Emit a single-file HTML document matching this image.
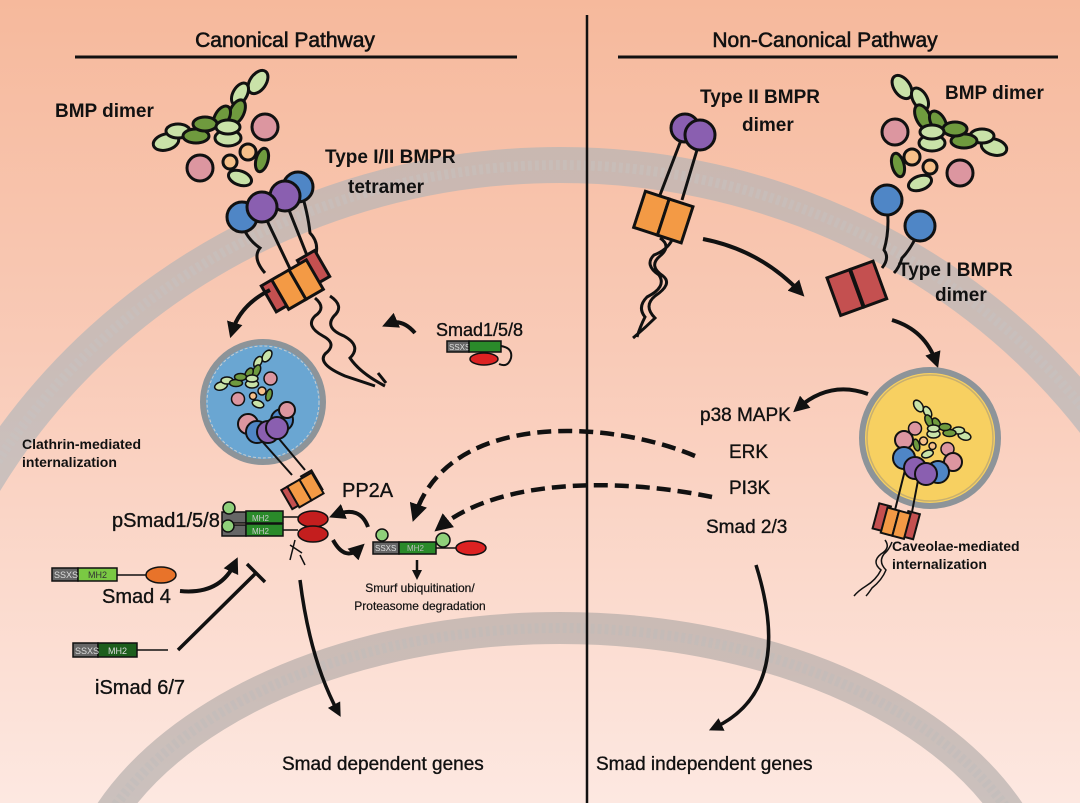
<!DOCTYPE html>
<html><head><meta charset="utf-8"><style>
html,body{margin:0;padding:0;width:1080px;height:803px;overflow:hidden}
svg{display:block}
text{font-family:"Liberation Sans",Arial,sans-serif;fill:#111;stroke:#111;stroke-width:0.35}
.b{font-weight:bold;stroke-width:0}
</style></head><body>
<svg width="1080" height="803" viewBox="0 0 1080 803" xmlns="http://www.w3.org/2000/svg">
<defs>
<linearGradient id="bg" x1="0" y1="0" x2="0" y2="1">
<stop offset="0" stop-color="#f6b99c"/><stop offset="0.45" stop-color="#f9cbb8"/><stop offset="1" stop-color="#fde8e1"/>
</linearGradient>
<marker id="ah" viewBox="0 0 10 10" refX="6" refY="5" markerWidth="4" markerHeight="4" orient="auto"><path d="M0,0L10,5L0,10z" fill="#111"/></marker>
<g id="cluster" stroke="#111" stroke-width="3">
<ellipse cx="258" cy="82" rx="13" ry="8" transform="rotate(-55 258 82)" fill="#c9e2a8"/>
<ellipse cx="240" cy="94" rx="12" ry="7" transform="rotate(-60 240 94)" fill="#c9e2a8"/>
<ellipse cx="237" cy="112" rx="13" ry="7" transform="rotate(-65 237 112)" fill="#6f9a3e"/>
<ellipse cx="222" cy="117" rx="12" ry="7" transform="rotate(-60 222 117)" fill="#6f9a3e"/>
<ellipse cx="166" cy="142" rx="13" ry="8" transform="rotate(-15 166 142)" fill="#c9e2a8"/>
<ellipse cx="178" cy="131" rx="12" ry="7" fill="#c9e2a8"/>
<ellipse cx="196" cy="136" rx="13" ry="7" fill="#6f9a3e"/>
<ellipse cx="205" cy="124" rx="12" ry="7" fill="#6f9a3e"/>
<ellipse cx="228" cy="138" rx="13" ry="8" fill="#c9e2a8"/>
<ellipse cx="228" cy="127" rx="12" ry="7" fill="#c9e2a8"/>
<circle cx="265" cy="127" r="13" fill="#dc96a0"/>
<circle cx="248" cy="152" r="8" fill="#f6c08a"/>
<circle cx="230" cy="162" r="7" fill="#f6c08a"/>
<ellipse cx="262" cy="160" rx="12" ry="6" transform="rotate(-75 262 160)" fill="#6f9a3e"/>
<ellipse cx="240" cy="178" rx="12" ry="7" transform="rotate(20 240 178)" fill="#c9e2a8"/>
<circle cx="200" cy="168" r="13" fill="#dc96a0"/>
</g>
<g id="tetra" stroke="#111" stroke-width="3">
<path d="M262,210 L293,275 M285,200 L312,268" fill="none"/>
<path d="M240,218 q5,20 20,30 q-8,10 5,25 M300,188 q8,25 10,45 q10,10 5,25" fill="none"/>
<circle cx="242" cy="217" r="15" fill="#4f86c6"/>
<circle cx="298" cy="187" r="15" fill="#4f86c6"/>
<circle cx="285" cy="196" r="15" fill="#8a5fb0"/>
<circle cx="262" cy="207" r="15" fill="#8a5fb0"/>
<g transform="rotate(-30 296 282)">
<rect x="264" y="268" width="20" height="30" fill="#c45050"/>
<rect x="308" y="264" width="20" height="30" fill="#c45050"/>
<rect x="276" y="268" width="20" height="34" fill="#f39a45"/>
<rect x="296" y="268" width="20" height="34" fill="#f39a45"/>
</g>
</g>
</defs>
<rect width="1080" height="803" fill="url(#bg)"/>
<!-- membranes -->
<ellipse cx="560" cy="800" rx="665" ry="635" fill="none" stroke="#a4b0b8" stroke-opacity="0.55" stroke-width="36"/>
<ellipse cx="560" cy="800" rx="665" ry="635" fill="none" stroke="#c6c6c6" stroke-opacity="0.35" stroke-width="10" stroke-dasharray="4 3"/>
<ellipse cx="560" cy="928" rx="487" ry="300" fill="none" stroke="#999" stroke-opacity="0.5" stroke-width="32"/>
<ellipse cx="560" cy="928" rx="487" ry="300" fill="none" stroke="#bbb" stroke-opacity="0.4" stroke-width="10" stroke-dasharray="4 3"/>
<!-- titles -->
<text x="285" y="47" font-size="21" text-anchor="middle" style="stroke-width:0.6">Canonical Pathway</text>
<line x1="75" y1="57" x2="517" y2="57" stroke="#111" stroke-width="3"/>
<text x="825" y="47" font-size="21" text-anchor="middle" style="stroke-width:0.6">Non-Canonical Pathway</text>
<line x1="618" y1="57" x2="1058" y2="57" stroke="#111" stroke-width="3"/>
<line x1="587" y1="15" x2="587" y2="803" stroke="#111" stroke-width="2.5"/>

<!-- Canonical top -->
<text x="55" y="117" font-size="19" class="b">BMP dimer</text>
<text x="325" y="163" font-size="19" class="b">Type I/II BMPR</text>
<text x="348" y="193" font-size="19" class="b">tetramer</text>
<use href="#tetra"/>
<use href="#cluster"/>
<path d="M315,298 q12,10 0,18 q-10,10 8,20 q15,8 2,18 q-8,10 20,22 q15,5 30,10 M330,296 q15,10 4,20 q-10,12 10,20 q18,10 6,22 q10,15 35,28 M378,373 l8,10" fill="none" stroke="#111" stroke-width="3"/>
<path d="M270,290 Q240,305 232,332" fill="none" stroke="#111" stroke-width="4" marker-end="url(#ah)"/>
<path d="M415,333 Q402,318 388,324" fill="none" stroke="#111" stroke-width="4" marker-end="url(#ah)"/>
<text x="436" y="336" font-size="18">Smad1/5/8</text>
<rect x="447" y="341" width="22" height="11" fill="#666" stroke="#111" stroke-width="1.5"/>
<text x="449" y="350" font-size="8" style="fill:#ddd;stroke:none">SSXS</text>
<rect x="469" y="341" width="32" height="11" fill="#2a8a2a" stroke="#111" stroke-width="1.5"/>
<path d="M501,346 q12,2 10,12 q-3,10 -12,6" fill="none" stroke="#111" stroke-width="2"/>
<ellipse cx="484" cy="359" rx="14" ry="6" fill="#d22" stroke="#111" stroke-width="1.5"/>

<!-- clathrin vesicle -->
<circle cx="263" cy="402" r="60" fill="#6aa6d2" stroke="#8d9499" stroke-width="6"/>
<circle cx="263" cy="402" r="56" fill="none" stroke="#ccc" stroke-width="1" stroke-dasharray="3 2"/>
<g transform="translate(263,395) scale(0.5) translate(-250,-160)"><use href="#cluster"/></g>
<g stroke="#111" stroke-width="2">
<line x1="252" y1="430" x2="292" y2="475"/><line x1="270" y1="428" x2="305" y2="470"/>
<circle cx="248" cy="424" r="10" fill="#dc96a0"/>
<circle cx="257" cy="432" r="11" fill="#4f86c6"/><circle cx="282" cy="420" r="11" fill="#4f86c6"/>
<circle cx="268" cy="432" r="11" fill="#8a5fb0"/><circle cx="277" cy="428" r="11" fill="#8a5fb0"/>
<circle cx="287" cy="410" r="8" fill="#dc96a0"/>
<g transform="rotate(-30 302 492)">
<rect x="285" y="480" width="12" height="22" fill="#c45050"/><rect x="309" y="478" width="12" height="22" fill="#c45050"/>
<rect x="292" y="480" width="14" height="24" fill="#f39a45"/><rect x="306" y="480" width="14" height="24" fill="#f39a45"/>
</g>
</g>
<text x="22" y="449" font-size="14" class="b">Clathrin-mediated</text>
<text x="22" y="467" font-size="14" class="b">internalization</text>

<!-- pSmad complex -->
<text x="112" y="527" font-size="20">pSmad1/5/8</text>
<g stroke="#111" stroke-width="1.5">
<rect x="222" y="512" width="24" height="11" fill="#666"/><rect x="222" y="525" width="24" height="11" fill="#666"/>
<rect x="246" y="511" width="37" height="12" fill="#2a8a2a"/><rect x="246" y="524" width="37" height="12" fill="#2a8a2a"/>
<circle cx="229" cy="508" r="6" fill="#8fd07a"/><circle cx="228" cy="526" r="6" fill="#8fd07a"/>
<ellipse cx="313" cy="519" rx="15" ry="8" fill="#c41e1e"/><ellipse cx="313" cy="534" rx="15" ry="8" fill="#c41e1e"/>
</g>
<text x="252" y="521" font-size="8" style="fill:#ccc;stroke:none">MH2</text><text x="252" y="534" font-size="8" style="fill:#ccc;stroke:none">MH2</text>
<path d="M283,517 h15 M283,530 h15 M290,545 l12,8 M295,540 l-5,20 M300,555 l5,10" stroke="#111" stroke-width="1.5" fill="none"/>
<text x="342" y="497" font-size="20">PP2A</text>
<path d="M368,527 Q360,505 335,515" fill="none" stroke="#111" stroke-width="4" marker-end="url(#ah)"/>
<path d="M333,540 Q345,562 360,548" fill="none" stroke="#111" stroke-width="4" marker-end="url(#ah)"/>
<g stroke="#111" stroke-width="1.5">
<rect x="373" y="542" width="26" height="12" fill="#666"/>
<rect x="399" y="542" width="37" height="12" fill="#2a8a2a"/>
<line x1="436" y1="548" x2="456" y2="548"/>
<ellipse cx="471" cy="548" rx="15" ry="7" fill="#d22"/>
<circle cx="382" cy="535" r="6" fill="#8fd07a"/><circle cx="443" cy="540" r="7" fill="#8fd07a"/>
</g>
<text x="375" y="551" font-size="8" style="fill:#ddd;stroke:none">SSXS</text>
<text x="407" y="551" font-size="8" style="fill:#bbb;stroke:none">MH2</text>
<path d="M417,560 V576" stroke="#111" stroke-width="2.5" marker-end="url(#ah)"/>
<text x="420" y="592" font-size="12" text-anchor="middle" style="stroke-width:0.2">Smurf ubiquitination/</text>
<text x="420" y="610" font-size="12" text-anchor="middle" style="stroke-width:0.2">Proteasome degradation</text>

<!-- Smad4 -->
<g stroke="#111" stroke-width="1.5">
<rect x="52" y="568" width="26" height="13" fill="#666"/>
<rect x="78" y="568" width="39" height="13" fill="#7ac943"/>
<line x1="117" y1="575" x2="148" y2="575"/>
<ellipse cx="161" cy="575" rx="15" ry="8" fill="#e8732a"/>
</g>
<text x="54" y="578" font-size="9" style="fill:#ddd;stroke:none">SSXS</text>
<text x="88" y="578" font-size="9" style="fill:#333;stroke:none">MH2</text>
<text x="102" y="603" font-size="20">Smad 4</text>
<path d="M180,591 Q220,595 235,563" fill="none" stroke="#111" stroke-width="4" marker-end="url(#ah)"/>
<!-- iSmad -->
<g stroke="#111" stroke-width="1.5">
<rect x="73" y="643" width="25" height="14" fill="#666"/>
<rect x="98" y="643" width="39" height="14" fill="#1d5e1d"/>
<line x1="137" y1="650" x2="168" y2="650"/>
</g>
<text x="75" y="654" font-size="9" style="fill:#ddd;stroke:none">SSXS</text>
<text x="108" y="654" font-size="9" style="fill:#ddd;stroke:none">MH2</text>
<text x="95" y="694" font-size="20">iSmad 6/7</text>
<path d="M178,650 L256,573 M247,564 L265,582" stroke="#111" stroke-width="3.5"/>
<path d="M300,580 Q310,660 338,712" fill="none" stroke="#111" stroke-width="3.5" marker-end="url(#ah)"/>
<text x="282" y="770" font-size="19">Smad dependent genes</text>

<!-- dashed -->
<path d="M695,456 C610,420 450,410 415,515" fill="none" stroke="#111" stroke-width="4.5" stroke-dasharray="14 7" marker-end="url(#ah)"/>
<path d="M712,497 C620,478 500,478 440,527" fill="none" stroke="#111" stroke-width="4.5" stroke-dasharray="14 7" marker-end="url(#ah)"/>

<!-- Non-canonical -->
<text x="700" y="103" font-size="19" class="b">Type II BMPR</text>
<text x="742" y="131" font-size="19" class="b">dimer</text>
<g stroke="#111" stroke-width="3">
<line x1="683" y1="135" x2="660" y2="195"/><line x1="700" y1="140" x2="682" y2="200"/>
<circle cx="685" cy="128" r="14" fill="#8a5fb0"/><circle cx="700" cy="135" r="15" fill="#8a5fb0"/>
<g transform="rotate(18 663 218)"><rect x="638" y="198" width="25" height="38" fill="#f39a45"/><rect x="663" y="198" width="25" height="38" fill="#f39a45"/></g>
<path d="M660,238 q12,8 0,18 q-12,10 3,20 q10,8 -8,20 q-12,10 0,22 q-10,10 -22,20 M672,240 q-5,10 -18,15 q-10,10 5,20 q8,12 -12,22 q-10,10 -2,20 q-5,10 -8,20" fill="none"/>
</g>
<path d="M703,239 Q760,250 800,292" fill="none" stroke="#111" stroke-width="4" marker-end="url(#ah)"/>
<text x="945" y="99" font-size="19" class="b">BMP dimer</text>
<g transform="translate(1160,5) scale(-1,1)"><use href="#cluster"/></g>
<g stroke="#111" stroke-width="3">
<path d="M887,205 q3,25 -3,45 q6,8 -2,18 M920,228 q-8,20 -18,30 q-3,10 -8,15" fill="none"/>
<circle cx="887" cy="200" r="15" fill="#4f86c6"/><circle cx="920" cy="226" r="15" fill="#4f86c6"/>
<g transform="rotate(-20 858 290)"><rect x="833" y="268" width="24" height="40" fill="#c45050"/><rect x="858" y="268" width="24" height="40" fill="#c45050"/></g>
</g>
<text x="898" y="276" font-size="19" class="b">Type I BMPR</text>
<text x="935" y="301" font-size="19" class="b">dimer</text>
<path d="M892,320 Q925,330 936,362" fill="none" stroke="#111" stroke-width="4" marker-end="url(#ah)"/>
<!-- caveolae -->
<circle cx="930" cy="438" r="68" fill="#f7d061" stroke="#8d9499" stroke-width="6"/>
<circle cx="930" cy="438" r="63" fill="none" stroke="#c8b070" stroke-width="1.5"/>
<g transform="translate(940,430) scale(0.5) translate(-215,-130) translate(430,0) scale(-1,1)"><use href="#cluster"/></g>
<g stroke="#111" stroke-width="2">
<line x1="905" y1="470" x2="895" y2="510"/><line x1="920" y1="470" x2="912" y2="512"/>
<circle cx="904" cy="440" r="9" fill="#dc96a0"/><circle cx="953" cy="462" r="9" fill="#dc96a0"/>
<circle cx="904" cy="458" r="11" fill="#4f86c6"/><circle cx="938" cy="472" r="11" fill="#4f86c6"/>
<circle cx="915" cy="468" r="11" fill="#8a5fb0"/><circle cx="926" cy="474" r="11" fill="#8a5fb0"/>
<g transform="rotate(15 895 522)">
<rect x="875" y="508" width="12" height="26" fill="#c45050"/><rect x="905" y="508" width="12" height="26" fill="#c45050"/>
<rect x="884" y="510" width="12" height="26" fill="#f39a45"/><rect x="896" y="510" width="12" height="26" fill="#f39a45"/>
</g>
<path d="M885,540 q6,8 -4,14 q-10,8 0,16 q-5,10 -15,16 q-8,5 -12,10 M892,542 q-3,8 -8,12 q-6,8 2,16 q-4,10 -14,18 q-4,6 -6,8" fill="none" stroke-width="1.5"/>
</g>
<text x="892" y="551" font-size="14" class="b">Caveolae-mediated</text>
<text x="892" y="569" font-size="14" class="b">internalization</text>
<path d="M868,394 Q830,380 798,408" fill="none" stroke="#111" stroke-width="4" marker-end="url(#ah)"/>
<text x="700" y="421" font-size="19">p38 MAPK</text>
<text x="729" y="458" font-size="19">ERK</text>
<text x="729" y="494" font-size="19">PI3K</text>
<text x="706" y="533" font-size="19">Smad 2/3</text>
<path d="M756,565 Q795,690 714,728" fill="none" stroke="#111" stroke-width="3.5" marker-end="url(#ah)"/>
<text x="596" y="770" font-size="19">Smad independent genes</text>
</svg>
</body></html>
